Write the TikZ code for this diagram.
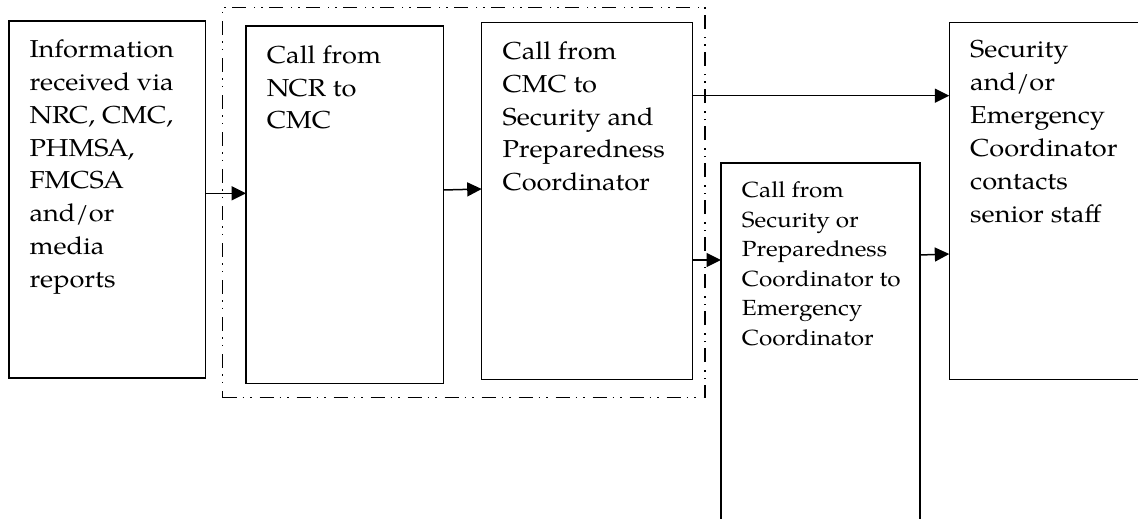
\documentclass[tikz,border=0pt]{standalone}
\usepackage{fontspec}
\setmainfont[FakeStretch=1.11]{TeX Gyre Pagella}
\usetikzlibrary{arrows.meta}
\begin{document}
\begin{tikzpicture}[x=1pt,y=-1pt,
  box/.style={draw, line width=1.5pt, rectangle, inner sep=0pt, outer sep=0pt, anchor=north west},
  grp/.style={box, line width=1.3pt,
    dash pattern=on 14pt off 6pt on 1.5pt off 6pt on 1.5pt off 8pt},
  % multi-line labels are placed by the baseline of their last line
  lbl/.style={anchor=base west, align=left, inner sep=0pt,
    font=\fontsize{24.5}{32.9}\selectfont},
  lblsmall/.style={lbl, font=\fontsize{21.9}{29.5}\selectfont},
  flow/.style={-{Triangle[length=14.5pt,width=14pt]}, line width=1.5pt}
]
\clip (0,0) rectangle (1138,519);

% dash-dot frame around the two call steps
\node[grp, minimum width=482.3pt, minimum height=390.4pt] (g) at (222.7,7.3) {};

% process boxes
\node[box, minimum width=196.5pt, minimum height=357pt] (b1) at (9,21) {};
\node[box, minimum width=197.3pt, minimum height=357.3pt] (b2) at (246,26) {};
\node[box, minimum width=210.6pt, minimum height=356.6pt] (b3) at (481.7,22.7) {};
\node[box, minimum width=199pt, minimum height=380pt] (b4) at (721,163) {};
\node[box, minimum width=210pt, minimum height=357pt] (b5) at (949.3,22.3) {};

% box texts
\node[lbl] (t1) at (29.3,287.6) {Information\\received via\\NRC, CMC,\\PHMSA,\\FMCSA\\and/or\\media\\reports};
\node[lbl, font=\fontsize{24.5}{32.5}\selectfont] (t2) at (266.7,128.6) {Call from\\NCR to\\CMC};
\node[lbl] (t3) at (502.3,190.8) {Call from\\CMC to\\Security and\\Preparedness\\Coordinator};
\node[lblsmall] (t4) at (741.7,345) {Call from\\Security or\\Preparedness\\Coordinator to\\Emergency\\Coordinator};
\node[lbl, font=\fontsize{24.5}{33.1}\selectfont] (t5) at (970,222.8) {Security\\and/or\\Emergency\\Coordinator\\contacts\\senior staff};

% connectors
\draw[flow] (b1.east |- 0,193.3) -- (b2.west |- 0,193.3);
\draw[flow] (b2.east |- 0,190) -- (b3.west |- 0,189);
\draw[flow] (b3.east |- 0,95.7) -- (b5.west |- 0,95.7);
\draw[flow] (b3.east |- 0,260) -- (b4.west |- 0,260);
\draw[flow] (b4.east |- 0,255) -- (b5.west |- 0,254);
\end{tikzpicture}
\end{document}
